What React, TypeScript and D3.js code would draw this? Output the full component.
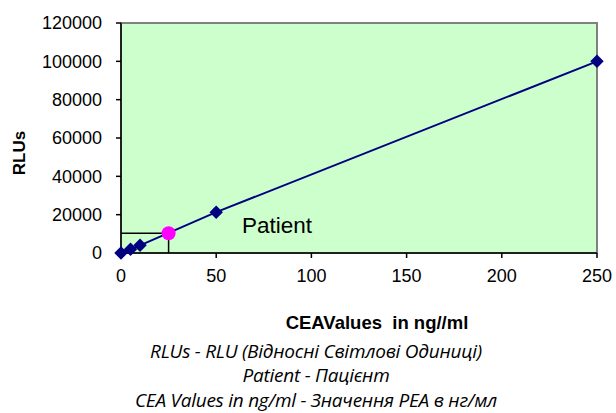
import * as d3 from "d3";

const concentrations = [0, 5, 10, 50, 250];
const rlus = [0, 2000, 4000, 21300, 100000];
const patient = { conc: 25, rlu: 10300 };
const xTicks = [0, 50, 100, 150, 200, 250];
const yTicks = [0, 20000, 40000, 60000, 80000, 100000, 120000];
const notes = [
  "RLUs - RLU (Відносні Світлові Одиниці)",
  "Patient - Пацієнт",
  "CEA Values in ng/ml - Значення PEA в нг/мл",
];

export default function App() {
  const W = 616, H = 413;
  const left = 121, right = 597, top = 23, bottom = 253;
  const x = d3.scaleLinear().domain([0, 250]).range([left, right]);
  const y = d3.scaleLinear().domain([0, 120000]).range([bottom, top]);
  const pts = concentrations.map((c, i) => [c, rlus[i]] as [number, number]);
  const line = d3.line<[number, number]>().x(d => x(d[0])).y(d => y(d[1]));
  const diamond = d3.symbol().type(d3.symbolDiamond2).size(115)()!;

  return (
    <svg width={W} height={H} style={{ position: "absolute", left: 0, top: 0 }}
      fontFamily="Liberation Sans, Arial, sans-serif">
      <rect x={left} y={top} width={right - left} height={bottom - top} fill="#CCFFCC"
        stroke="#808080" strokeWidth={2} />
      <line x1={left} x2={left} y1={top} y2={bottom} stroke="#000" strokeWidth={1.5} />
      <line x1={left} x2={right} y1={bottom} y2={bottom} stroke="#000" strokeWidth={1.5} />
      {yTicks.map(t => (
        <g key={t}>
          <line x1={left - 5} x2={left} y1={y(t)} y2={y(t)} stroke="#000" strokeWidth={1.5} />
          <text x={left - 19} y={y(t)} dy="0.35em" textAnchor="end" fontSize={18}>{t}</text>
        </g>
      ))}
      {xTicks.map(t => (
        <g key={t}>
          <line x1={x(t)} x2={x(t)} y1={bottom} y2={bottom + 5} stroke="#000" strokeWidth={1.5} />
          <text x={x(t)} y={bottom + 23} dy="0.35em" textAnchor="middle" fontSize={18}>{t}</text>
        </g>
      ))}
      <polyline points={`${left},${y(patient.rlu)} ${x(patient.conc)},${y(patient.rlu)} ${x(patient.conc)},${bottom}`}
        fill="none" stroke="#000" strokeWidth={1.5} />
      <path d={line(pts)!} fill="none" stroke="#000080" strokeWidth={2} />
      {pts.map((p, i) => (
        <path key={i} d={diamond} transform={`translate(${x(p[0])},${y(p[1])})`} fill="#000080" />
      ))}
      <circle cx={x(patient.conc)} cy={y(patient.rlu)} r={7} fill="#FF00FF" />
      <text x={242} y={233} fontSize={22.5}>Patient</text>
      <text transform={`translate(19,${153}) rotate(-90)`} textAnchor="middle"
        dy="0.35em" fontSize={17} fontWeight="bold">RLUs</text>
      <text x={377} y={323} dy="0.35em" textAnchor="middle" fontSize={18.5} fontWeight="bold">
        CEAValues{"\u00a0\u00a0"}in ng//ml
      </text>
      {notes.map((n, i) => (
        <text key={i} x={316} y={351 + i * 24.5} dy="0.35em" textAnchor="middle" fontSize={19}
          fontStyle="italic" fontFamily="Open Sans, sans-serif" letterSpacing={-0.25}>{n}</text>
      ))}
    </svg>
  );
}
